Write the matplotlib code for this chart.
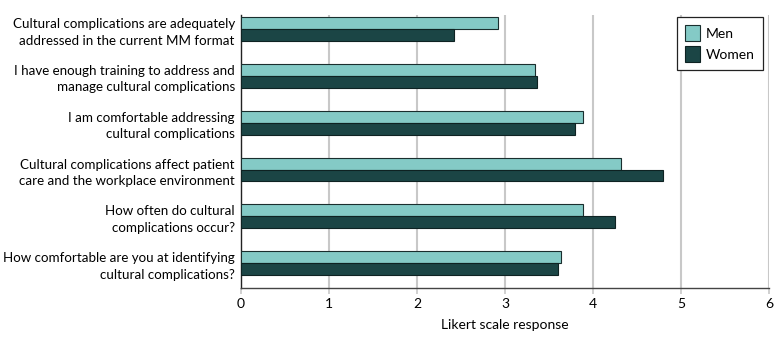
import numpy as np
import matplotlib.pyplot as plt

# Survey items (top to bottom) and mean Likert responses
questions = [
    'Cultural complications are adequately\naddressed in the current MM format',
    'I have enough training to address and\nmanage cultural complications',
    'I am comfortable addressing\ncultural complications',
    'Cultural complications affect patient\ncare and the workplace environment',
    'How often do cultural\ncomplications occur?',
    'How comfortable are you at identifying\ncultural complications?',
]
men = [2.92, 3.34, 3.89, 4.32, 3.89, 3.64]
women = [2.42, 3.36, 3.80, 4.80, 4.25, 3.60]
xticks = [0, 1, 2, 3, 4, 5, 6]

plt.rcParams['font.family'] = ['Lato', 'DejaVu Sans']
fs = 10

fig = plt.figure(figsize=(7.83, 3.38), dpi=100)
ax = fig.add_axes([241/783, 1 - 288/338, (769 - 241)/783, (288 - 15)/338])

y = np.arange(len(questions))
h = 0.255
ax.barh(y - h/2, men, height=h, color='#84cac6', edgecolor='#1a2e2e', linewidth=0.8, label='Men', zorder=3)
ax.barh(y + h/2, women, height=h, color='#1b4545', edgecolor='#0e2222', linewidth=0.8, label='Women', zorder=3)

ax.set_xlim(0, 6)
ax.set_ylim(5.53, -0.30)
ax.set_xticks(xticks)
ax.set_xticklabels([str(t) for t in xticks], fontsize=fs)
ax.set_yticks(y)
ax.set_yticklabels(questions, fontsize=9.6, linespacing=1.45)
ax.tick_params(axis='y', length=0, pad=4.5)
ax.tick_params(axis='x', length=4, color='#c8c8c8', width=1.2, pad=3)

for t in xticks[1:]:
    ax.axvline(t, color='#c8c8c8', linewidth=1.5, zorder=1)

for s in ['top', 'right']:
    ax.spines[s].set_visible(False)
ax.spines['left'].set_color('#222222')
ax.spines['bottom'].set_color('#444444')
ax.spines['left'].set_linewidth(1.0)
ax.spines['bottom'].set_linewidth(1.0)

ax.set_xlabel('Likert scale response', fontsize=fs, labelpad=7)

leg = ax.legend(loc='upper right', bbox_to_anchor=(763/783, 1 - 17/338), bbox_transform=fig.transFigure,
                borderaxespad=0, fontsize=fs, frameon=True, fancybox=False,
                handlelength=1.1, handleheight=1.35, handletextpad=0.4,
                borderpad=0.6, labelspacing=0.4)
leg.get_frame().set_edgecolor('#222222')
leg.get_frame().set_linewidth(0.9)
leg.get_frame().set_alpha(1)

fig.savefig('out.png', dpi=100)
